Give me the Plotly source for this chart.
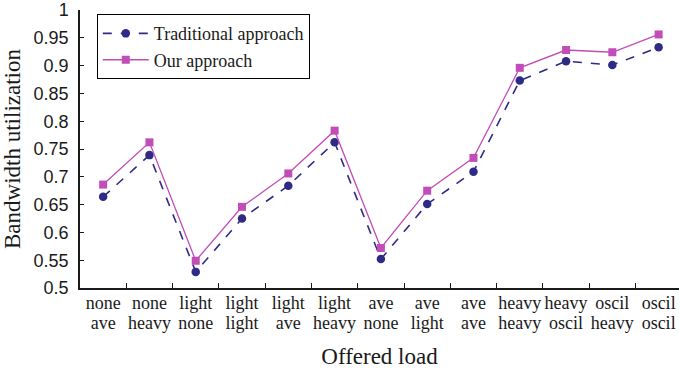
import plotly.graph_objects as go

load_first = ["none", "none", "light", "light", "light", "light", "ave", "ave", "ave",
              "heavy", "heavy", "oscil", "oscil"]
load_second = ["ave", "heavy", "none", "light", "ave", "heavy", "none", "light", "ave",
               "heavy", "oscil", "heavy", "oscil"]
traditional = [0.664, 0.739, 0.529, 0.625, 0.684, 0.762, 0.552, 0.651, 0.709,
               0.873, 0.908, 0.901, 0.933]
ours = [0.686, 0.762, 0.549, 0.646, 0.706, 0.783, 0.572, 0.675, 0.734,
        0.896, 0.928, 0.924, 0.956]
y_ticks = [0.5, 0.55, 0.6, 0.65, 0.7, 0.75, 0.8, 0.85, 0.9, 0.95, 1.0]
y_tick_text = ["0.5", "0.55", "0.6", "0.65", "0.7", "0.75", "0.8", "0.85", "0.9", "0.95", "1"]

idx = list(range(len(load_first)))
boundaries = [i + 0.5 for i in idx[:-1]]

navy = "#2f2a85"
magenta = "#c24db8"
serif = "Liberation Serif"
sans = "Liberation Sans"
ink = "#1a1a1a"

fig = go.Figure()
fig.add_trace(go.Scatter(
    x=idx, y=traditional, name="Traditional approach", mode="lines+markers",
    line=dict(color=navy, width=1.6, dash="dash"),
    marker=dict(symbol="circle", size=8.5, color=navy),
))
fig.add_trace(go.Scatter(
    x=idx, y=ours, name="Our approach", mode="lines+markers",
    line=dict(color=magenta, width=1.3),
    marker=dict(symbol="square", size=8, color=magenta),
))
# invisible traces carrying the second label line and the boundary ticks
fig.add_trace(go.Scatter(
    x=idx, y=ours, xaxis="x2", mode="markers", marker=dict(opacity=0),
    showlegend=False, hoverinfo="skip",
))
fig.add_trace(go.Scatter(
    x=idx, y=ours, xaxis="x3", mode="markers", marker=dict(opacity=0),
    showlegend=False, hoverinfo="skip",
))

xr = [-0.5, 12.44]
fig.update_layout(
    width=679, height=371,
    margin=dict(l=80, r=0, t=10, b=83, autoexpand=False),
    paper_bgcolor="white", plot_bgcolor="white",
    showlegend=True,
    legend=dict(
        x=0.028, y=0.985, xanchor="left", yanchor="top",
        bordercolor="black", borderwidth=1, bgcolor="white",
        font=dict(family=serif, size=18, color=ink),
        tracegroupgap=0, itemwidth=46,
    ),
    xaxis=dict(
        range=xr, tickmode="array", tickvals=idx, ticktext=load_first,
        showline=True, linecolor=ink, linewidth=1.5,
        ticks="", showgrid=False, zeroline=False, automargin=False,
        tickfont=dict(family=serif, size=18, color=ink),
        ticklabelstandoff=-2, ticklabeloverflow="allow",
        title=dict(text="Offered load", font=dict(family=serif, size=23, color=ink),
                   standoff=36),
    ),
    xaxis2=dict(
        range=xr, overlaying="x", anchor="y", side="bottom", automargin=False,
        tickmode="array", tickvals=idx, ticktext=load_second,
        showline=False, ticks="", showgrid=False, zeroline=False,
        tickfont=dict(family=serif, size=18, color=ink),
        ticklabelstandoff=22, ticklabeloverflow="allow",
    ),
    xaxis3=dict(
        range=xr, overlaying="x", anchor="y", automargin=False,
        tickmode="array", tickvals=boundaries,
        ticktext=["" for _ in boundaries], ticks="inside", ticklen=5, tickcolor=ink,
        showline=False, showgrid=False, zeroline=False,
    ),
    yaxis=dict(
        range=[0.5, 1.0], tickmode="array", tickvals=y_ticks, ticktext=y_tick_text,
        showline=True, linecolor=ink, linewidth=1.5, automargin=False,
        ticks="inside", ticklen=4, tickcolor=ink,
        showgrid=False, zeroline=False,
        tickfont=dict(family=sans, size=18, color=ink),
        ticklabelstandoff=6, ticklabeloverflow="allow",
        title=dict(text="Bandwidth utilization", font=dict(family=serif, size=23, color=ink),
                   standoff=8),
    ),
)

fig.write_html("out.html", config={"displayModeBar": False},
               post_script="document.body.style.margin='0';")
